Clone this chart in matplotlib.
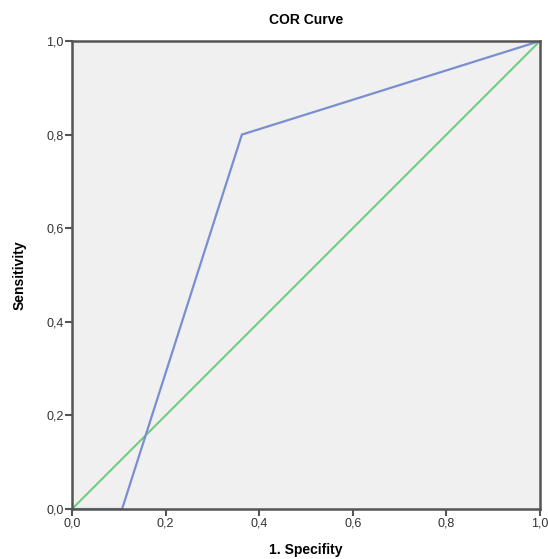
import matplotlib
matplotlib.use("Agg")
import matplotlib.pyplot as plt
from matplotlib.ticker import FixedLocator

plt.rcParams['font.family'] = ['Liberation Sans', 'DejaVu Sans']

# Data
roc_x = [0.0, 0.107, 0.363, 1.0]
roc_y = [0.0, 0.0, 0.8, 1.0]
ref_x = [0.0, 1.0]
ref_y = [0.0, 1.0]
ticks = [0.0, 0.2, 0.4, 0.6, 0.8, 1.0]
tick_labels = ["0,0", "0,2", "0,4", "0,6", "0,8", "1,0"]

fig = plt.figure(figsize=(5.48, 5.59), dpi=100)
ax = fig.add_axes([72/548, 1-509/559, (540-72)/548, (509-41)/559])
ax.set_facecolor('#F0F0F0')

ax.plot(ref_x, ref_y, color='#6CCB78', lw=1.4, solid_capstyle='butt')
ax.plot(roc_x, roc_y, color='#7A8ED0', lw=1.6, solid_joinstyle='miter')

ax.set_xlim(0, 1)
ax.set_ylim(0, 1)
ax.xaxis.set_major_locator(FixedLocator(ticks))
ax.yaxis.set_major_locator(FixedLocator(ticks))
ax.set_xticklabels(tick_labels)
ax.set_yticklabels(tick_labels)

for s in ax.spines.values():
    s.set_color('#555555')
    s.set_linewidth(1.8)

ax.tick_params(direction='out', length=5, width=1.5, color='#555555',
               labelsize=9, labelcolor='#333333', pad=1)

ax.set_title('COR Curve', fontsize=10, fontweight='bold', pad=12)
ax.set_xlabel('1. Specifity', fontsize=10, fontweight='bold', labelpad=10)
ax.set_ylabel('Sensitivity', fontsize=10, fontweight='bold', labelpad=14)

fig.savefig('out.png', dpi=100)
